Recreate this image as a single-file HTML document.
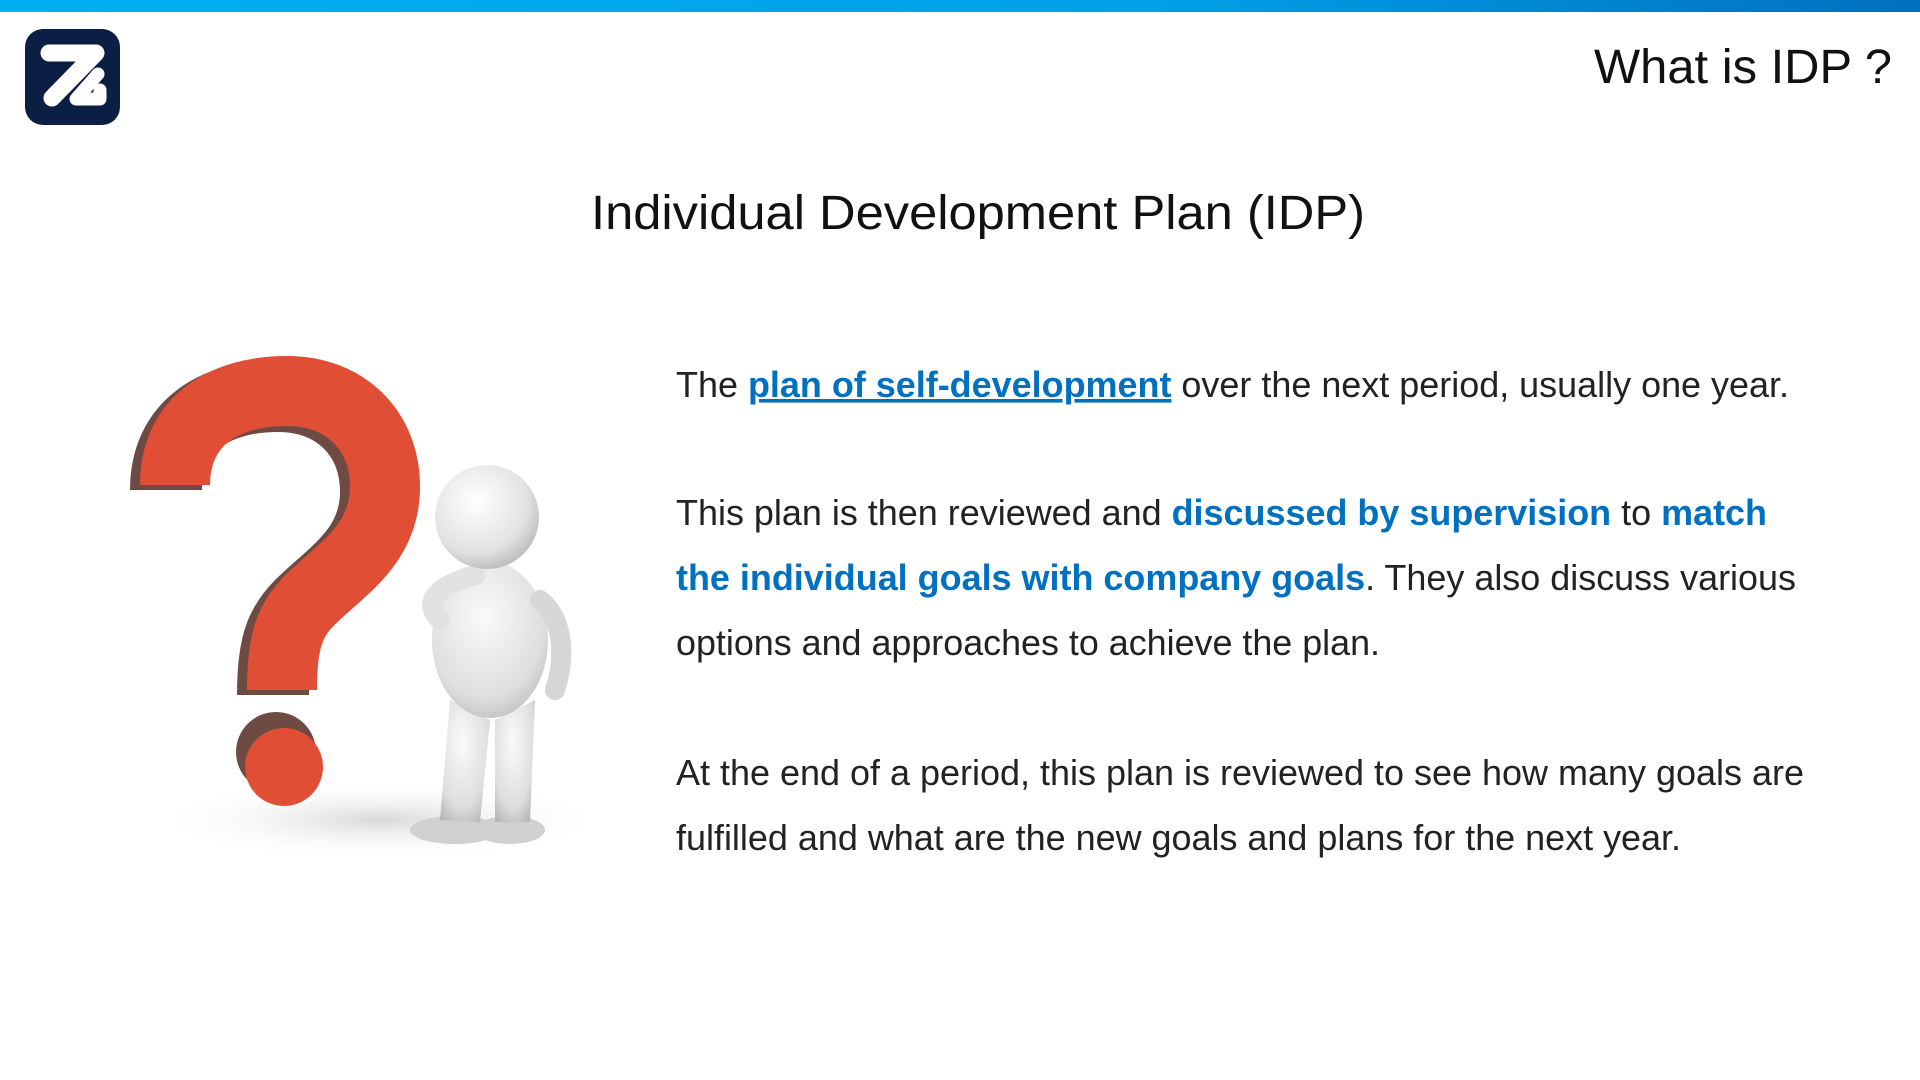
<!DOCTYPE html>
<html><head><meta charset="utf-8"><style>
html,body{margin:0;padding:0;background:#fff;}
svg{display:block;}
text{font-family:"Liberation Sans",Arial,sans-serif;}
</style></head><body>
<svg width="1920" height="1080" viewBox="0 0 1920 1080">
<defs>
<linearGradient id="bar" x1="0" x2="1"><stop offset="0" stop-color="#00b0f0"/><stop offset="0.6" stop-color="#00a0e6"/><stop offset="1" stop-color="#0070c0"/></linearGradient>
<radialGradient id="head" cx="0.4" cy="0.35" r="0.7"><stop offset="0" stop-color="#ffffff"/><stop offset="0.7" stop-color="#e2e2e2"/><stop offset="1" stop-color="#b8b8b8"/></radialGradient>
<radialGradient id="body" cx="0.45" cy="0.35" r="0.75"><stop offset="0" stop-color="#fafafa"/><stop offset="0.7" stop-color="#dedede"/><stop offset="1" stop-color="#b5b5b5"/></radialGradient>
<radialGradient id="shadow"><stop offset="0" stop-color="#d8d8d8"/><stop offset="1" stop-color="#fff" stop-opacity="0"/></radialGradient>
</defs>
<rect x="0" y="0" width="1920" height="12" fill="url(#bar)"/>
<g>
<rect x="25" y="29" width="95" height="96" rx="18" fill="#0b1f45"/>
<path d="M49,53 L96,53 L52,98" fill="none" stroke="#fff" stroke-width="17" stroke-linecap="round" stroke-linejoin="round"/>
<path d="M98,74 L76,99 L100,99 L100,90" fill="none" stroke="#fff" stroke-width="13" stroke-linecap="round" stroke-linejoin="round"/>
</g>
<text x="1594" y="83" font-size="48" fill="#111" textLength="298" lengthAdjust="spacingAndGlyphs">What is IDP ?</text>
<text x="591" y="229" font-size="48" fill="#111" textLength="774" lengthAdjust="spacingAndGlyphs">Individual Development Plan (IDP)</text>

<g>
<ellipse cx="380" cy="820" rx="230" ry="40" fill="url(#shadow)"/>
<path d="M175,485 C175,420 225,391 287,391 C345,391 385,430 385,487 C385,545 340,570 310,600 C290,620 282,640 282,690" fill="none" stroke="#6e4b42" stroke-width="72" transform="translate(-9,5)"/>
<path d="M175,485 C175,420 225,391 287,391 C345,391 385,430 385,487 C385,545 340,570 310,600 C290,620 282,640 282,690" fill="none" stroke="#e04f35" stroke-width="70"/>
<circle cx="276" cy="752" r="40" fill="#6e4b42"/>
<circle cx="284" cy="767" r="39" fill="#e04f35"/>
<ellipse cx="455" cy="830" rx="45" ry="14" fill="#d0d0d0"/>
<ellipse cx="510" cy="830" rx="35" ry="14" fill="#d0d0d0"/>
<path d="M450,700 L440,820 L480,822 L490,720 Z" fill="url(#body)"/>
<path d="M495,720 L495,822 L530,822 L535,700 Z" fill="url(#body)"/>
<ellipse cx="490" cy="640" rx="58" ry="78" fill="url(#body)"/>
<path d="M540,600 C565,620 565,660 555,690" fill="none" stroke="#d6d6d6" stroke-width="20" stroke-linecap="round"/>
<path d="M440,620 C420,600 440,585 475,575" fill="none" stroke="#e2e2e2" stroke-width="20" stroke-linecap="round"/>
<circle cx="487" cy="517" r="52" fill="url(#head)"/>
</g>

<g fill="#222" font-size="36">
<text x="676" y="397" textLength="1113" lengthAdjust="spacingAndGlyphs">The <tspan fill="#0070c0" font-weight="bold" text-decoration="underline">plan of self-development</tspan> over the next period, usually one year.</text>
<text x="676" y="525" textLength="1091" lengthAdjust="spacingAndGlyphs">This plan is then reviewed and <tspan fill="#0070c0" font-weight="bold">discussed by supervision</tspan> to <tspan fill="#0070c0" font-weight="bold">match</tspan></text>
<text x="676" y="590" textLength="1120" lengthAdjust="spacingAndGlyphs"><tspan fill="#0070c0" font-weight="bold">the individual goals with company goals</tspan>. They also discuss various</text>
<text x="676" y="655" textLength="704" lengthAdjust="spacingAndGlyphs">options and approaches to achieve the plan.</text>
<text x="676" y="785" textLength="1128" lengthAdjust="spacingAndGlyphs">At the end of a period, this plan is reviewed to see how many goals are</text>
<text x="676" y="850" textLength="1005" lengthAdjust="spacingAndGlyphs">fulfilled and what are the new goals and plans for the next year.</text>
</g>
</svg>
</body></html>
